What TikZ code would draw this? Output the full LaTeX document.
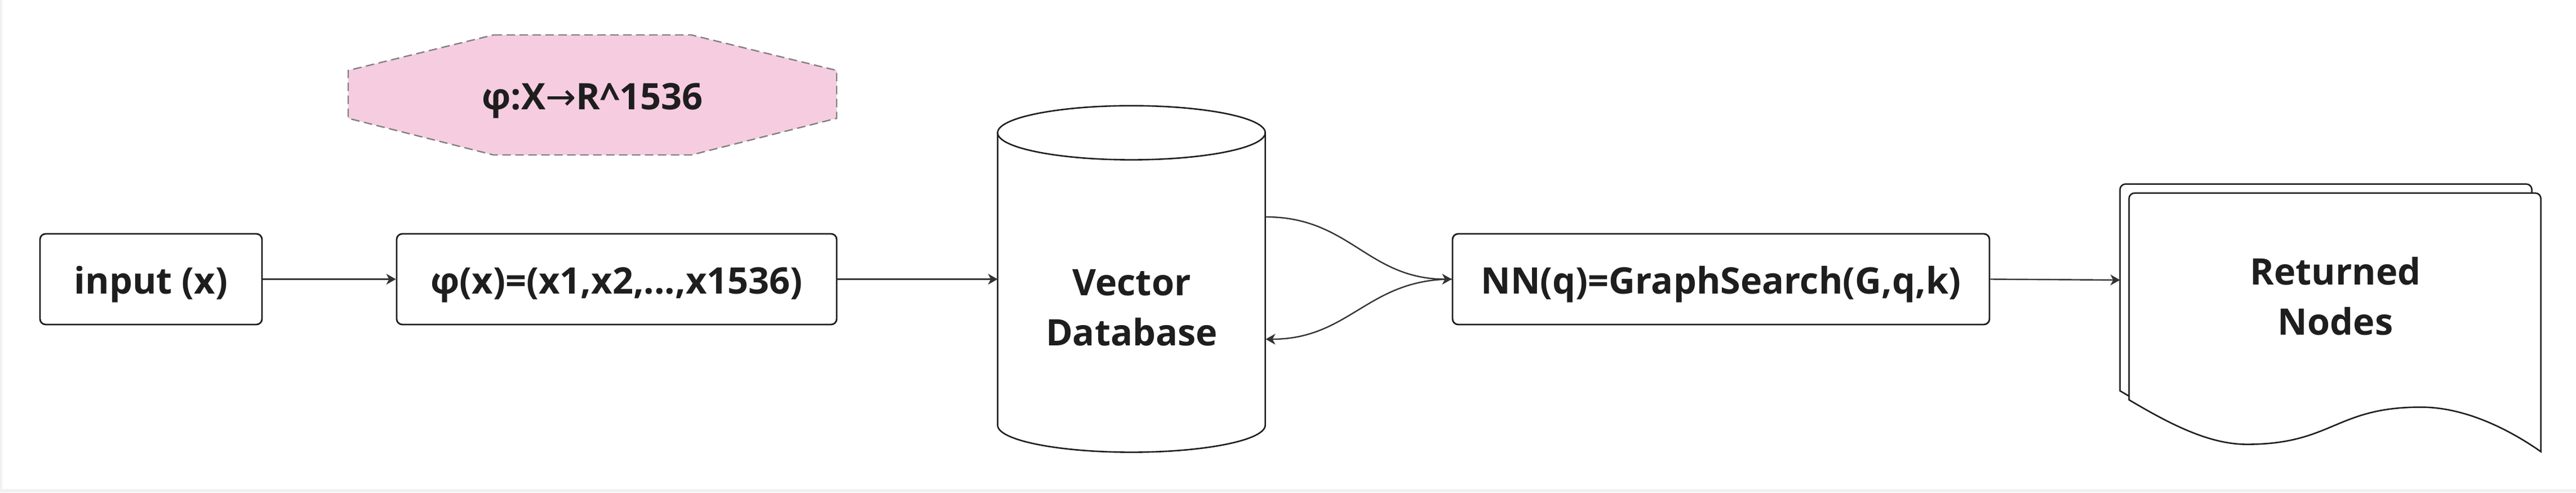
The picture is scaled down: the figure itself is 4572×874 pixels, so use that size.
\documentclass[tikz,border=0pt]{standalone}
\usepackage{fontspec}
\setmainfont{Open Sans}
\newfontfamily\arrowfont{DejaVu Sans}
\usetikzlibrary{arrows.meta}
\definecolor{ink}{HTML}{1E1E1E}
\definecolor{wire}{HTML}{333333}
\definecolor{pinkfill}{HTML}{F6CCE0}
\definecolor{dashgray}{HTML}{808080}
\definecolor{framegray}{HTML}{F1F1F1}
\begin{document}
\begin{tikzpicture}[x=0.5pt,y=-0.5pt,
  every node/.style={font=\bfseries\fontsize{32.4}{44.5}\selectfont, text=ink},
  oneline/.style={text height=34pt, text depth=7.8pt, inner sep=0pt},
  box/.style={oneline, draw=ink, line width=1.4pt, rounded corners=5pt, fill=white, minimum height=80.5pt},
  ghost/.style={inner sep=0pt, draw=none},
  shapeline/.style={draw=ink, line width=1.3pt},
  conn/.style={draw=wire, line width=1.2pt, -{Stealth[length=8.5pt,width=9.5pt,inset=2.5pt]}},
  docsheet/.pic={
    \draw[shapeline, fill=white] (0,367) -- (0,10) arc[start angle=180,end angle=90,radius=5pt]
      -- (721,0) arc[start angle=90,end angle=0,radius=5pt] -- (731,459)
      .. controls (681,424) and (601,380) .. (518,380)
      .. controls (366,380) and (361,446) .. (209,446)
      .. controls (141,446) and (71,409) .. (0,367) -- cycle;
  },
]
\useasboundingbox (0,0) rectangle (4572,874);
\fill[framegray] (0,0) rectangle (4572,874);
\fill[white] (4,0) rectangle (4572,868);

% embedding annotation
\draw[draw=dashgray, dash pattern=on 7.5pt off 4pt, line width=1.2pt, fill=pinkfill]
  (876,62) -- (1227,62) -- (1485,125) -- (1485,210) -- (1227,275) -- (876,275) -- (618,210) -- (618,125) -- cycle;
\node[oneline] (emb) at (1051.5,168.5) {φ:X{\arrowfont\mdseries →}R\textasciicircum 1536};

% boxes
\node[box, minimum width=197pt] (in) at (268,495.5) {input (x)};
\node[box, minimum width=390.5pt] (phi) at (1094.5,495.5) {φ(x)=(x1,x2,...,x1536)};
\node[box, minimum width=476.5pt] (nn) at (3054.5,495.5) {NN(q)=GraphSearch(G,q,k)};

% database cylinder
\node[ghost, minimum width=237.5pt, minimum height=307.5pt] (db) at (2008.5,495.5) {};
\draw[shapeline, fill=white] (db.north west) ++(0,48) -- ++(0,519)
  arc[start angle=180,end angle=360,x radius=118.75pt,y radius=24pt] -- ++(0,-519)
  arc[start angle=0,end angle=180,x radius=118.75pt,y radius=24pt] -- cycle;
\draw[shapeline] (db.north west) ++(0,48)
  arc[start angle=180,end angle=360,x radius=118.75pt,y radius=24pt];
\node[align=center] (dbt) at (2008.5,546) {Vector\\Database};
\path (db.east) ++(0,-110.5) coordinate (dbq) ++(0,217) coordinate (dbr);

% returned documents
\node[ghost, minimum width=365.5pt, minimum height=229.5pt] (retback) at (4128.5,556.5) {};
\node[ghost, minimum width=365.5pt, minimum height=229.5pt] (ret) at (4144.5,572.5) {};
\pic at (retback.north west) {docsheet};
\pic at (ret.north west) {docsheet};
\node[align=center] (rett) at (4145,525.5) {Returned\\Nodes};
\path (retback.west) ++(0,-59.5) coordinate (retin);

% connectors
\draw[conn] (in.east) -- (phi.west);
\draw[conn] (phi.east) -- (db.west);
\draw[conn] (dbq) to[out=0,in=180,looseness=1.1] (nn.west);
\draw[conn] (nn.west) to[out=180,in=0,looseness=1.1] (dbr);
\draw[conn] (nn.east) -- (retin);
\end{tikzpicture}
\end{document}
